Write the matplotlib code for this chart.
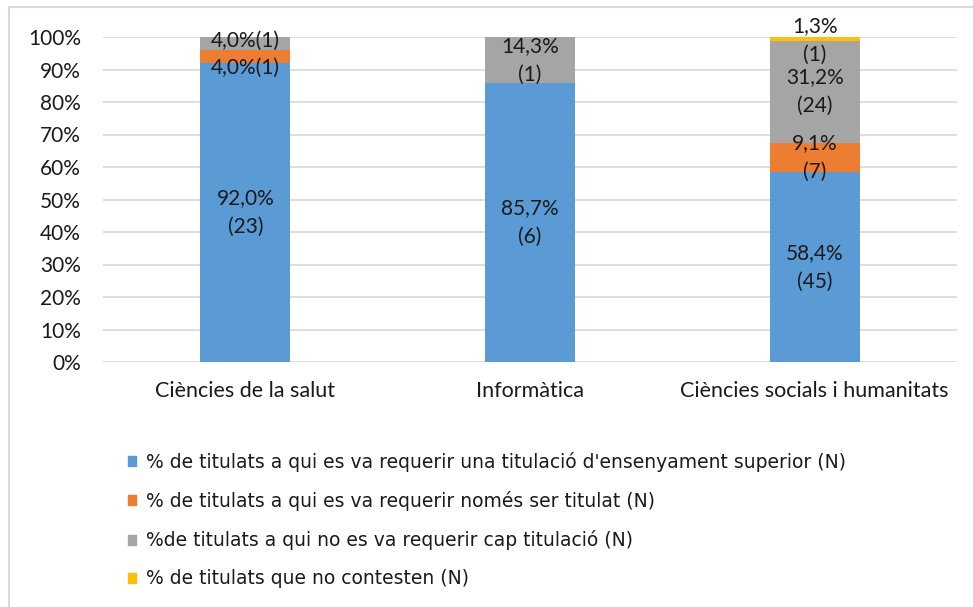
import matplotlib
matplotlib.use("Agg")
import matplotlib.pyplot as plt
import numpy as np
from matplotlib.patches import Rectangle, Patch

plt.rcParams['font.family'] = ['Lato', 'DejaVu Sans']

categories = ["Ciències de la salut", "Informàtica", "Ciències socials i humanitats"]
series_names = [
    "% de titulats a qui es va requerir una titulació d'ensenyament superior (N)",
    "% de titulats a qui es va requerir només ser titulat (N)",
    "%de titulats a qui no es va requerir cap titulació (N)",
    "% de titulats que no contesten (N)",
]
superior = [92.0, 85.7, 58.4]
nomes_titulat = [4.0, 0.0, 9.1]
cap_titulacio = [4.0, 14.3, 31.2]
no_contesten = [0.0, 0.0, 1.3]
n_superior = [23, 6, 45]
n_nomes = [1, 0, 7]
n_cap = [1, 1, 24]
n_no = [0, 0, 1]
colors = ["#5B9BD5", "#ED7D31", "#A5A5A5", "#FFC000"]

fig = plt.figure(figsize=(9.73, 6.07), dpi=100)
ax = fig.add_axes([103 / 973, 1 - 362 / 607, 854 / 973, 325 / 607])

x = np.arange(len(categories))
values = [superior, nomes_titulat, cap_titulacio, no_contesten]
counts = [n_superior, n_nomes, n_cap, n_no]
bottom = np.zeros(len(categories))
for vals, ns, col in zip(values, counts, colors):
    vals = np.array(vals)
    ax.bar(x, vals, 0.316, bottom=bottom, color=col, zorder=2)
    for i in range(len(categories)):
        if vals[i] == 0:
            continue
        v = f"{vals[i]:.1f}%".replace(".", ",")
        mid = bottom[i] + vals[i] / 2
        if i == 0 and vals[i] < 5:
            # salut: short segments get a single-line label
            off = -3.4 if col == colors[1] else 0.8
            ax.text(x[i], mid + off, f"{v}({ns[i]})", ha="center", va="center",
                    fontsize=15, color="#1a1a1a", zorder=3)
        else:
            off = -0.5 if col == colors[3] else 0
            ax.text(x[i], mid + off, f"{v}\n({ns[i]})", ha="center", va="center",
                    fontsize=15, color="#1a1a1a", linespacing=1.55, zorder=3,
                    clip_on=False)
    bottom += vals

ax.set_xlim(-0.5, 2.5)
ax.set_ylim(0, 100)
ax.set_yticks(np.arange(0, 101, 10))
ax.set_yticklabels([f"{t}%" for t in range(0, 101, 10)], fontsize=15, color="#1a1a1a")
ax.set_xticks(x)
ax.set_xticklabels(categories, fontsize=15.5, color="#1a1a1a")
ax.tick_params(axis="y", length=0, pad=16)
ax.tick_params(axis="x", length=0, pad=14)
ax.grid(axis="y", color="#D9D9D9", linewidth=1.2, zorder=0)
for s in ax.spines.values():
    s.set_visible(False)

handles = [Patch(color=c) for c in colors]
fig.legend(handles, series_names, loc="upper left", bbox_to_anchor=(128 / 973, 1 - 452 / 607),
           frameon=False, handlelength=0.45, handleheight=0.45,
           handletextpad=0.5, labelspacing=1.02, borderaxespad=0, borderpad=0,
           prop={'family': ['DejaVu Sans'], 'size': 13.5},
           labelcolor="#1a1a1a")

fig.patches.append(Rectangle((9 / 973, -0.1), 1.2, 1 - 7 / 607 + 0.1, transform=fig.transFigure,
                             fill=False, edgecolor="#D9D9D9", linewidth=1.5, figure=fig))

fig.savefig("out.png", dpi=100)
